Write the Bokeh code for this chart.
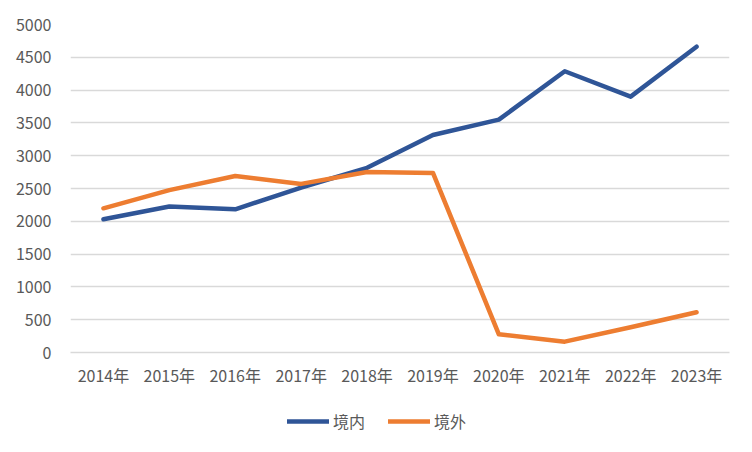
from bokeh.plotting import figure
from bokeh.layouts import column
from bokeh.models import ColumnDataSource, FactorRange, Range1d, FixedTicker, Legend, LegendItem
from bokeh.embed import file_html
from bokeh.resources import INLINE

years = ["2014年", "2015年", "2016年", "2017年", "2018年", "2019年", "2020年", "2021年", "2022年", "2023年"]
domestic = [2030, 2225, 2183, 2515, 2815, 3315, 3550, 4287, 3900, 4662]
overseas = [2198, 2475, 2690, 2570, 2752, 2738, 277, 165, 385, 613]
series_names = ["境内", "境外"]
y_ticks = list(range(0, 5001, 500))

FONT = "Noto Sans CJK SC"
TEXT = "#595959"
BLUE = "#2F5597"
ORANGE = "#ED7D31"

src = ColumnDataSource(dict(x=years, d=domestic, o=overseas))

p = figure(width=736, height=392, frame_width=659, frame_height=328,
           output_backend="svg", toolbar_location=None,
           x_range=FactorRange(*years, range_padding=0), y_range=Range1d(0, 5000),
           min_border_left=70, min_border_right=7, min_border_top=24, min_border_bottom=40)
p.outline_line_color = None
p.background_fill_color = "white"
p.border_fill_color = "white"

p.line("x", "d", source=src, line_color=BLUE, line_width=4.5, line_join="round", line_cap="round")
p.line("x", "o", source=src, line_color=ORANGE, line_width=4.5, line_join="round", line_cap="round")

p.xgrid.grid_line_color = None
p.ygrid.grid_line_color = "#d9d9d9"
p.ygrid.grid_line_width = 1.3
p.yaxis.ticker = FixedTicker(ticks=y_ticks)

p.yaxis.axis_line_color = None
p.yaxis.major_tick_line_color = None
p.yaxis.minor_tick_line_color = None
p.yaxis.major_label_standoff = 13
p.yaxis.major_label_text_font = FONT
p.yaxis.major_label_text_font_size = "16px"
p.yaxis.major_label_text_color = TEXT

p.xaxis.axis_line_color = "#d9d9d9"
p.xaxis.axis_line_width = 1.3
p.xaxis.major_tick_line_color = None
p.xaxis.minor_tick_line_color = None
p.xaxis.major_label_standoff = 4
p.xaxis.major_label_text_font = FONT
p.xaxis.major_label_text_font_size = "16px"
p.xaxis.major_label_text_color = TEXT

# legend strip (series drawn out of view; only the legend shows)
lg = figure(width=736, height=44, output_backend="svg", toolbar_location=None,
            x_range=FactorRange(*years, range_padding=0), y_range=Range1d(9000, 9100),
            min_border_left=0, min_border_right=0, min_border_top=0, min_border_bottom=0)
lg.axis.visible = False
lg.grid.visible = False
lg.outline_line_color = None
lg.background_fill_color = "white"
lg.border_fill_color = "white"
l1 = lg.line("x", "d", source=src, line_color=BLUE, line_width=4.5, line_cap="round")
l2 = lg.line("x", "o", source=src, line_color=ORANGE, line_width=4.5, line_cap="round")

legend = Legend(items=[LegendItem(label=series_names[0], renderers=[l1]),
                       LegendItem(label=series_names[1], renderers=[l2])],
                orientation="horizontal", location=(217, 3),
                label_text_font=FONT, label_text_font_size="16px", label_text_color=TEXT,
                glyph_width=42, glyph_height=16, spacing=23, label_standoff=4,
                border_line_color=None, background_fill_alpha=0, padding=4, margin=0)
lg.add_layout(legend, "center")

layout = column(p, lg, spacing=0)
open("out.html", "w").write(file_html(layout, INLINE))
